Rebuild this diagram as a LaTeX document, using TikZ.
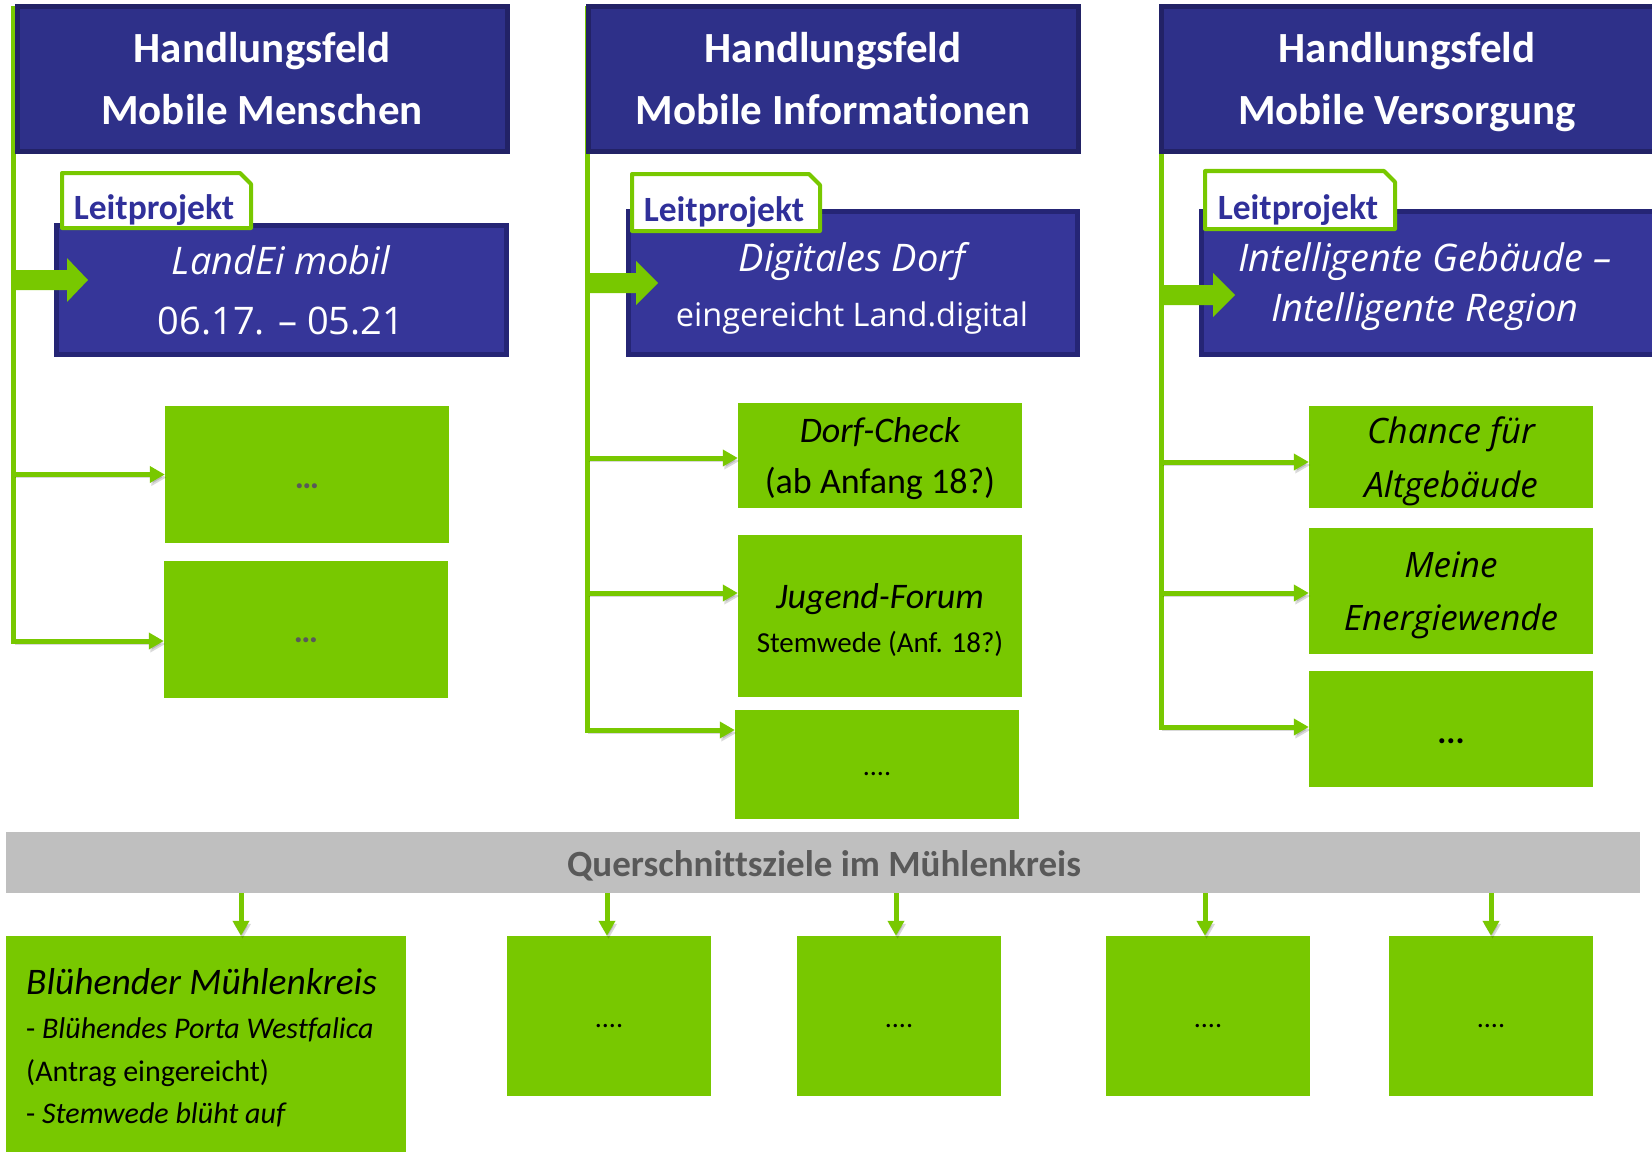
\documentclass[tikz,border=0pt]{standalone}
\usepackage{fontspec}
\setmainfont{Carlito}[Ligatures={NoCommon,NoRare,NoDiscretionary}]
\newfontfamily\osans{Open Sans}[Ligatures={NoCommon,NoRare,NoDiscretionary}]
\usetikzlibrary{arrows.meta}
\definecolor{hfill}{HTML}{2E3089}
\definecolor{hdraw}{HTML}{222266}
\definecolor{lfill}{HTML}{363699}
\definecolor{ldraw}{HTML}{252575}
\definecolor{grn}{HTML}{78C800}
\definecolor{barg}{HTML}{BFBFBF}
\definecolor{dgray}{HTML}{595959}
\definecolor{tagtxt}{HTML}{30309A}
\begin{document}
\begin{tikzpicture}[x=1pt,y=-1pt,
  hbox/.style={draw=hdraw, fill=hfill, line width=5pt, inner sep=0pt},
  lbox/.style={draw=ldraw, fill=lfill, line width=5pt, inner sep=0pt},
  gbox/.style={fill=grn, inner sep=0pt},
  tagshape/.style={draw=grn, fill=white, line width=4pt, line join=round},
  conn/.style={draw=grn, line width=5pt, -{Triangle[length=15pt,width=16pt]}, preaction={draw=black, opacity=0.15, transform canvas={shift={(1.5pt,-3pt)}}}},
  blockarrow/.style={fill=grn},
  tx/.style={inner sep=0pt, anchor=base},
  headtxt/.style={tx, text=white, font=\bfseries\fontsize{43}{50}\selectfont},
  tagtext/.style={tx, text=tagtxt, font=\bfseries\fontsize{35.5}{40}\selectfont},
  wit/.style={tx, text=white, font=\osans\itshape\fontsize{38}{40}\selectfont},
  wup/.style={tx, text=white, font=\osans\fontsize{38}{40}\selectfont},
  wsm/.style={tx, text=white, font=\osans\fontsize{32.5}{40}\selectfont},
  bit/.style={tx, text=black, font=\itshape\fontsize{36}{40}\selectfont},
  bup/.style={tx, text=black, font=\fontsize{36}{40}\selectfont},
  oit/.style={tx, text=black, font=\osans\itshape\fontsize{35}{40}\selectfont},
  bsm/.style={tx, text=black, font=\fontsize{29}{34}\selectfont},
  bsmb/.style={tx, text=black, font=\fontsize{30}{34}\selectfont},
  bigit/.style={tx, text=black, font=\itshape\fontsize{37.5}{40}\selectfont},
  dots/.style={tx, text=black, font=\bfseries\fontsize{28}{30}\selectfont},
  gdots/.style={tx, text=dgray, font=\bfseries\fontsize{34}{36}\selectfont},
  bartxt/.style={tx, text=dgray, font=\bfseries\fontsize{37}{40}\selectfont}
]
\useasboundingbox (0,0) rectangle (1652,1153);

% trunk tops
\coordinate (t1) at (13.5,6);
\coordinate (t2) at (587,6);
\coordinate (t3) at (1161,6);

% green target boxes
\node[gbox, minimum width=284pt, minimum height=137pt] (G11) at (307,474.5) {};
\node[gbox, minimum width=284pt, minimum height=137pt] (G12) at (306,629.5) {};
\node[gbox, minimum width=284pt, minimum height=105pt] (G21) at (880,455.5) {};
\node[gbox, minimum width=284pt, minimum height=162pt] (G22) at (880,616) {};
\node[gbox, minimum width=284pt, minimum height=109pt] (G23) at (877,764.5) {};
\node[gbox, minimum width=284pt, minimum height=102pt] (G31) at (1451,457) {};
\node[gbox, minimum width=284pt, minimum height=126pt] (G32) at (1451,591) {};
\node[gbox, minimum width=284pt, minimum height=116pt] (G33) at (1451,729) {};

% connectors column 1
\draw[conn] (t1) |- ([yshift=-11.5pt]G12.west);
\draw[conn] (G11.west -| t1) -- (G11.west);
% column 2
\draw[conn] (t2) |- ([yshift=34.5pt]G23.west);
\draw[conn] ([yshift=-2.5pt]G21.west -| t2) -- ([yshift=-2.5pt]G21.west);
\draw[conn] ([yshift=23pt]G22.west -| t2) -- ([yshift=23pt]G22.west);
% column 3
\draw[conn] (t3) |- ([yshift=2pt]G33.west);
\draw[conn] ([yshift=-5pt]G31.west -| t3) -- ([yshift=-5pt]G31.west);
\draw[conn] ([yshift=-2pt]G32.west -| t3) -- ([yshift=-2pt]G32.west);

% headers
\node[hbox, minimum width=490pt, minimum height=145pt] (H1) at (262.5,79) {};
\node[hbox, minimum width=490pt, minimum height=145pt] (H2) at (833.5,79) {};
\node[hbox, minimum width=504pt, minimum height=145pt] (H3) at (1413,79) {};
\node[headtxt] (H1a) at (262,63) {Handlungsfeld};
\node[headtxt] (H1b) at (262,125) {Mobile Menschen};
\node[headtxt] (H2a) at (833,63) {Handlungsfeld};
\node[headtxt] (H2b) at (833,125) {Mobile Informationen};
\node[headtxt] (H3a) at (1407,63) {Handlungsfeld};
\node[headtxt] (H3b) at (1407,125) {Mobile Versorgung};

% Leitprojekt boxes
\node[lbox, minimum width=450pt, minimum height=129pt] (L1) at (281,289.5) {};
\node[lbox, minimum width=449pt, minimum height=143pt] (L2) at (852.5,282.5) {};
\node[lbox, minimum width=462pt, minimum height=143pt] (L3) at (1432,282.5) {};

% block arrows trunk -> Leitprojekt
\fill[blockarrow] (13,270) -- (67,270) -- (67,258) -- (88,280) -- (67,302) -- (67,290) -- (13,290) -- cycle;
\fill[blockarrow] (587,273) -- (636,273) -- (636,261) -- (658,283) -- (636,305) -- (636,293) -- (587,293) -- cycle;
\fill[blockarrow] (1161,285) -- (1213,285) -- (1213,273) -- (1235,295) -- (1213,317) -- (1213,305) -- (1161,305) -- cycle;

% tags (snipped corner)
\draw[tagshape] (62,228) -- (62,173) -- (240,173) -- (251,184) -- (251,228) -- cycle;
\draw[tagshape] (632,231) -- (632,174) -- (809,174) -- (820,185) -- (820,231) -- cycle;
\draw[tagshape] (1205,229) -- (1205,171) -- (1384,171) -- (1395,182) -- (1395,229) -- cycle;
\node[tagtext] (T1t) at (154,219) {Leitprojekt};
\node[tagtext] (T2t) at (724,221) {Leitprojekt};
\node[tagtext] (T3t) at (1298,219) {Leitprojekt};

% Leitprojekt texts
\node[wit] (L1a) at (281,274) {LandEi mobil};
\node[wup] (L1b) at (281,334) {06.17. – 05.21};
\node[wit] (L2a) at (852,271) {Digitales Dorf};
\node[wsm] (L2b) at (852,326) {eingereicht Land.digital};
\node[wit] (L3a) at (1425,271) {Intelligente Gebäude –};
\node[wit] (L3b) at (1425,321) {Intelligente Region};

% green box texts
\node[gdots] (G11t) at (307,488) {…};
\node[gdots] (G12t) at (306,642) {…};
\node[bit] (G21a) at (880,442) {Dorf-Check};
\node[bup] (G21b) at (880,493) {(ab Anfang 18?)};
\node[bit] (G22a) at (880,608) {Jugend-Forum};
\node[bsm] (G22b) at (880,652) {Stemwede (Anf. 18?)};
\node[dots, font=\fontsize{28}{30}\selectfont] (G23t) at (877,775) {....};
\node[oit] (G31a) at (1451,443) {Chance für};
\node[oit] (G31b) at (1451,497) {Altgebäude};
\node[oit] (G32a) at (1451,577) {Meine};
\node[oit] (G32b) at (1451,630) {Energiewende};
\node[dots, font=\bfseries\fontsize{34}{36}\selectfont] (G33t) at (1451,743) {...};

% Querschnitt bar
\node[fill=barg, inner sep=0pt, minimum width=1634pt, minimum height=61pt] (bar) at (823,862.5) {};
\node[bartxt] (bart) at (824,876) {Querschnittsziele im Mühlenkreis};

% bottom boxes
\node[gbox, minimum width=400pt, minimum height=216pt] (B1) at (206,1044) {};
\node[gbox, minimum width=204pt, minimum height=160pt] (B2) at (609,1016) {};
\node[gbox, minimum width=204pt, minimum height=160pt] (B3) at (899,1016) {};
\node[gbox, minimum width=204pt, minimum height=160pt] (B4) at (1208,1016) {};
\node[gbox, minimum width=204pt, minimum height=160pt] (B5) at (1491,1016) {};

\draw[conn] ([xshift=35pt]B1.north |- bar.south) -- ([xshift=35pt]B1.north);
\draw[conn] ([xshift=-2pt]B2.north |- bar.south) -- ([xshift=-2pt]B2.north);
\draw[conn] ([xshift=-3pt]B3.north |- bar.south) -- ([xshift=-3pt]B3.north);
\draw[conn] ([xshift=-3pt]B4.north |- bar.south) -- ([xshift=-3pt]B4.north);
\draw[conn] (B5.north |- bar.south) -- (B5.north);

\node[bigit, anchor=base west] (B1a) at (26,994) {Blühender Mühlenkreis};
\node[bsmb, anchor=base west] (B1b) at (26,1038) {- \textit{Blühendes Porta Westfalica}};
\node[bsmb, anchor=base west] (B1c) at (26,1081) {(Antrag eingereicht)};
\node[bsmb, anchor=base west] (B1d) at (26,1123) {- \textit{Stemwede blüht auf}};
\node[dots, font=\fontsize{28}{30}\selectfont] (B2t) at (609,1027) {....};
\node[dots, font=\fontsize{28}{30}\selectfont] (B3t) at (899,1027) {....};
\node[dots, font=\fontsize{28}{30}\selectfont] (B4t) at (1208,1027) {....};
\node[dots, font=\fontsize{28}{30}\selectfont] (B5t) at (1491,1027) {....};
\end{tikzpicture}
\end{document}
